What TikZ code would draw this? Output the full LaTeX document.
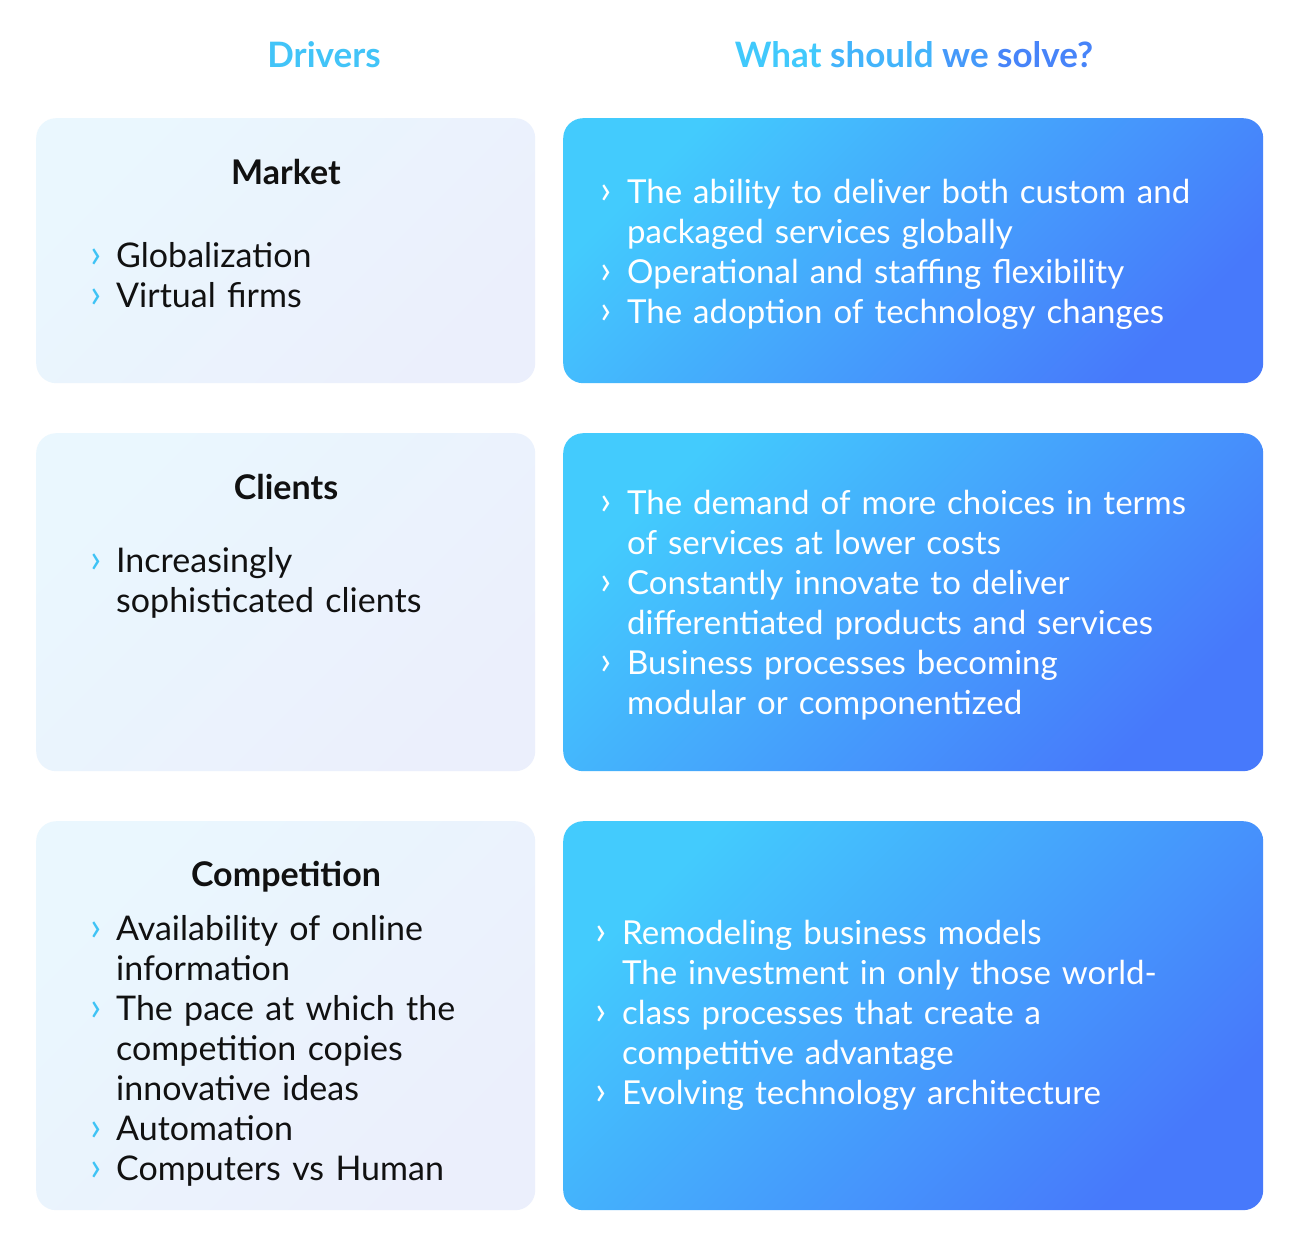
\documentclass[tikz,border=0pt]{standalone}
\usepackage{fontspec}
\setmainfont{Lato}
\usetikzlibrary{positioning}
\definecolor{hdrcyan}{HTML}{42C4F8}
\definecolor{drvA}{HTML}{EAF7FE}
\definecolor{drvB}{HTML}{EBEFFC}
\definecolor{slvA}{HTML}{43CBFD}
\definecolor{slvB}{HTML}{4779FB}
\definecolor{chev}{HTML}{3FC3F5}
\definecolor{ink}{HTML}{111111}
% one line of a list, with or without the chevron
\newcommand\chv{{\fontsize{40}{40}\selectfont ›}}
\newcommand\bul[1]{\noindent\llap{\textcolor{chev}{\chv}\hspace{14pt}}#1\par}
\newcommand\wbul[1]{\noindent\llap{\chv\hspace{15pt}}#1\par}
\newcommand\cont[1]{\noindent#1\par}
\tikzset{
  drvbox/.style={rounded corners=20pt, top color=drvA, bottom color=drvB,
    shading angle=45, inner sep=0pt, anchor=north west, minimum width=499pt},
  slvbox/.style={rounded corners=20pt, top color=slvA, bottom color=slvB,
    shading angle=45, inner sep=0pt, anchor=north west, minimum width=700pt},
  hdr/.style={font=\fontsize{35}{40}\selectfont\bfseries, anchor=base, inner sep=0pt},
  ttl/.style={font=\fontsize{34}{40}\selectfont\bfseries, text=ink, anchor=base, inner sep=0pt},
  drvlist/.style={font=\fontsize{34}{40}\selectfont, text=ink, text width=420pt,
    align=left, anchor=base west, inner sep=0pt},
  slvlist/.style={font=\fontsize{33}{40}\selectfont, text=white, text width=640pt,
    align=left, anchor=base west, inner sep=0pt}
}
\begin{document}
\begin{tikzpicture}[x=1pt, y=-1pt]
\useasboundingbox[fill=white] (0,0) rectangle (1299,1247);
% column heads
\node[hdr, text=hdrcyan] (hdrL) at (324,68) {Drivers};
\node[hdr] (hdrR) at (914,68) {\textcolor[HTML]{41C9FC}{What} \textcolor[HTML]{43B4FB}{should}
  \textcolor[HTML]{4599FA}{we} \textcolor[HTML]{4784F9}{solve?}};
% boxes
\node[drvbox, minimum height=265pt] (mkt) at (36,118) {};
\node[drvbox, minimum height=338pt] (cli) at (36,433) {};
\node[drvbox, minimum height=389pt] (cmp) at (36,821) {};
\node[slvbox, minimum height=265pt] (slvmkt) at (563,118) {};
\node[slvbox, minimum height=338pt] (slvcli) at (563,433) {};
\node[slvbox, minimum height=389pt] (slvcmp) at (563,821) {};
% Market
\node[ttl] (mktT) at (286,184) {Market};
\node[drvlist] (mktL) at (116,267) {\bul{Globalization}\bul{Virtual firms}};
\node[slvlist] (slvmktL) at (627,203) {%
  \wbul{The ability to deliver both custom and}
  \cont{packaged services globally}
  \wbul{Operational and staffing flexibility}
  \wbul{The adoption of technology changes}};
% Clients
\node[ttl] (cliT) at (286,499) {Clients};
\node[drvlist] (cliL) at (116,572) {\bul{Increasingly}\cont{sophisticated clients}};
\node[slvlist] (slvcliL) at (627,514) {%
  \wbul{The demand of more choices in terms}
  \cont{of services at lower costs}
  \wbul{Constantly innovate to deliver}
  \cont{differentiated products and services}
  \wbul{Business processes becoming}
  \cont{modular or componentized}};
% Competition
\node[ttl] (cmpT) at (286,886) {Competition};
\node[drvlist] (cmpL) at (116,940) {%
  \bul{Availability of online}
  \cont{information}
  \bul{The pace at which the}
  \cont{competition copies}
  \cont{innovative ideas}
  \bul{Automation}
  \bul{Computers vs Human}};
\node[slvlist] (slvcmpL) at (622,944) {%
  \wbul{Remodeling business models}
  \cont{The investment in only those world-}
  \wbul{class processes that create a}
  \cont{competitive advantage}
  \wbul{Evolving technology architecture}};
\end{tikzpicture}
\end{document}
